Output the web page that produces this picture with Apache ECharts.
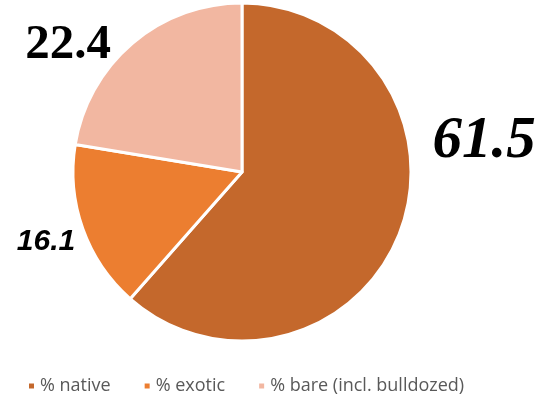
<!DOCTYPE html>
<html>
<head>
    <meta charset="UTF-8">
    <title>Land cover</title>
    <script src="https://cdn.jsdelivr.net/npm/echarts@6/dist/echarts.min.js"></script>
    <style>
        html, body {
            margin: 0;
            padding: 0;
            background: #fff;
        }

        #chart {
            width: 547px;
            height: 401px;
        }
    </style>
</head>
<body>
<div id="chart"></div>
<script>
    var categories = ['% native', '% exotic', '% bare (incl. bulldozed)'];
    var values = [61.5, 16.1, 22.4];
    var colors = ['#C4682C', '#EC7E30', '#F2B7A1'];

    // each label has its own look and place in the original
    var labelStyles = [
        {fontFamily: 'Liberation Serif', fontStyle: 'italic', fontWeight: 'bold', fontSize: 59, x: 484, y: 142},
        {fontFamily: 'Liberation Sans', fontStyle: 'italic', fontWeight: 'bold', fontSize: 30, x: 46, y: 242},
        {fontFamily: 'Liberation Serif', fontStyle: 'normal', fontWeight: 'bold', fontSize: 49, x: 68, y: 45}
    ];

    var data = categories.map(function (name, i) {
        var s = labelStyles[i];
        return {
            name: name,
            value: values[i],
            itemStyle: {color: colors[i]},
            label: {
                fontFamily: s.fontFamily,
                fontStyle: s.fontStyle,
                fontWeight: s.fontWeight,
                fontSize: s.fontSize
            }
        };
    });

    var chart = echarts.init(document.getElementById('chart'));
    chart.setOption({
        animation: false,
        legend: {
            data: categories,
            left: 22,
            top: 372,
            icon: 'rect',
            itemWidth: 7,
            itemHeight: 7,
            itemGap: 32,
            textStyle: {
                color: '#595959',
                fontFamily: 'Open Sans',
                fontSize: 18
            }
        },
        series: [{
            type: 'pie',
            center: [242, 172],
            radius: 169,
            startAngle: 90,
            clockwise: true,
            data: data,
            itemStyle: {
                borderColor: '#fff',
                borderWidth: 3
            },
            label: {
                show: true,
                position: 'outside',
                color: '#000',
                overflow: 'none',
                width: 200,
                formatter: function (p) {
                    return p.value.toFixed(1);
                }
            },
            labelLine: {show: false},
            labelLayout: function (params) {
                var s = labelStyles[params.dataIndex];
                return {x: s.x, y: s.y, align: 'center', verticalAlign: 'middle'};
            }
        }]
    });
</script>
</body>
</html>
